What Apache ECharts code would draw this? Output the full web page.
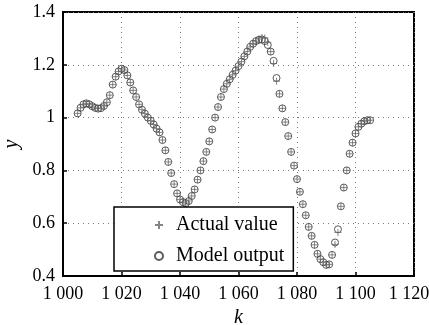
<!DOCTYPE html>
<html><head><meta charset="utf-8">
<script src="https://cdn.jsdelivr.net/npm/echarts@6/dist/echarts.min.js"></script>
<style>html,body{margin:0;padding:0;background:#fff}#c{width:429px;height:325px}</style>
</head><body><div id="c"></div>
<script>
var kStart = 1005;
var modelOutput = [
1.016,1.037,1.050,1.054,1.050,1.043,1.037,1.034,1.036,1.044,
1.058,1.085,1.125,1.155,1.175,1.185,1.180,1.160,1.133,1.103,
1.078,1.050,1.030,1.015,1.000,0.988,0.974,0.958,0.944,0.915,
0.876,0.832,0.790,0.748,0.713,0.690,0.680,0.676,0.684,0.703,
0.728,0.765,0.800,0.835,0.870,0.910,0.955,1.000,1.040,1.078,
1.108,1.128,1.145,1.162,1.178,1.195,1.212,1.232,1.250,1.268,
1.280,1.290,1.295,1.296,1.290,1.275,1.250,1.215,1.150,1.090,
1.035,0.983,0.930,0.870,0.818,0.767,0.719,0.672,0.630,0.586,
0.552,0.518,0.484,0.464,0.452,0.442,0.444,0.480,0.527,0.577,
0.664,0.735,0.800,0.863,0.905,0.940,0.965,0.977,0.986,0.990,
0.990];
var actualValue = [
1.016,1.037,1.050,1.054,1.050,1.043,1.037,1.034,1.036,1.044,
1.058,1.085,1.125,1.155,1.175,1.185,1.180,1.160,1.133,1.103,
1.078,1.050,1.030,1.015,1.000,0.988,0.974,0.958,0.944,0.915,
0.876,0.832,0.790,0.748,0.713,0.690,0.680,0.676,0.684,0.703,
0.728,0.765,0.800,0.835,0.870,0.910,0.955,1.000,1.040,1.078,
1.108,1.128,1.145,1.162,1.178,1.195,1.212,1.232,1.250,1.268,
1.280,1.290,1.298,1.304,1.302,1.285,1.250,1.205,1.138,1.090,
1.035,0.983,0.930,0.870,0.818,0.767,0.719,0.672,0.630,0.586,
0.552,0.518,0.484,0.464,0.452,0.442,0.444,0.480,0.520,0.565,
0.664,0.735,0.800,0.863,0.905,0.940,0.965,0.977,0.986,0.990,
0.990];
var xTickLabels = ['1 000','1 020','1 040','1 060','1 080','1 100','1 120'];
var yTickLabels = ['0.4','0.6','0.8','1','1.2','1.4'];
var seriesNames = ['Actual value','Model output'];

function pairs(arr){ return arr.map(function(v,i){ return [kStart+i, v]; }); }
var FONT = 'Liberation Serif';
var chart = echarts.init(document.getElementById('c'), null, {renderer:'canvas'});
chart.setOption({
  animation:false,
  backgroundColor:'#fff',
  grid:{left:63,right:15,top:12,bottom:49,show:true,borderColor:'#000',borderWidth:2,
    containLabel:false,outerBoundsMode:'none'},
  xAxis:{type:'value',min:1000,max:1120,interval:20,
    name:'k',nameLocation:'middle',nameGap:30,
    nameTextStyle:{fontFamily:FONT,fontSize:20,fontStyle:'italic',color:'#000'},
    axisLine:{show:true,lineStyle:{color:'#000',width:2}},
    axisTick:{show:true,inside:true,length:4,lineStyle:{color:'#000',width:1.5}},
    axisLabel:{fontFamily:FONT,fontSize:18,color:'#000',margin:9,
      rich:{last:{fontFamily:FONT,fontSize:18,color:'#000',padding:[0,10,0,0]}},
      formatter:function(v){
        var i = Math.round((v-1000)/20);
        return i === xTickLabels.length-1 ? '{last|' + xTickLabels[i] + '}' : xTickLabels[i];
      }},
    splitLine:{show:true,lineStyle:{color:'#777',type:[1,4],width:1}}},
  yAxis:{type:'value',min:0.4,max:1.4,interval:0.2,
    name:'y',nameLocation:'middle',nameGap:35,nameRotate:90,
    nameTextStyle:{fontFamily:FONT,fontSize:20,fontStyle:'italic',color:'#000'},
    axisLine:{show:true,lineStyle:{color:'#000',width:2}},
    axisTick:{show:true,inside:true,length:4,lineStyle:{color:'#000',width:1.5}},
    axisLabel:{fontFamily:FONT,fontSize:18,color:'#000',margin:8,
      formatter:function(v){ return yTickLabels[Math.round((v-0.4)/0.2)]; }},
    splitLine:{show:true,lineStyle:{color:'#777',type:[1,4],width:1}}},
  legend:{orient:'vertical',left:114,top:207,
    padding:[7,9,4,40],itemGap:9,itemWidth:24,itemHeight:8,
    borderColor:'#000',borderWidth:1.5,backgroundColor:'#fff',
    textStyle:{fontFamily:FONT,fontSize:20,color:'#000',lineHeight:22},
    data:seriesNames},
  series:[
    {name:seriesNames[1],type:'scatter',data:pairs(modelOutput),
     symbol:'circle',symbolSize:7,
     itemStyle:{color:'rgba(255,255,255,0)',borderColor:'#333',borderWidth:1}},
    {name:seriesNames[0],type:'scatter',data:pairs(actualValue),
     symbol:'path://M5,0L5,10M0,5L10,5',symbolSize:7,
     itemStyle:{color:'rgba(255,255,255,0)',borderColor:'#666',borderWidth:1}}
  ]
});
</script></body></html>
